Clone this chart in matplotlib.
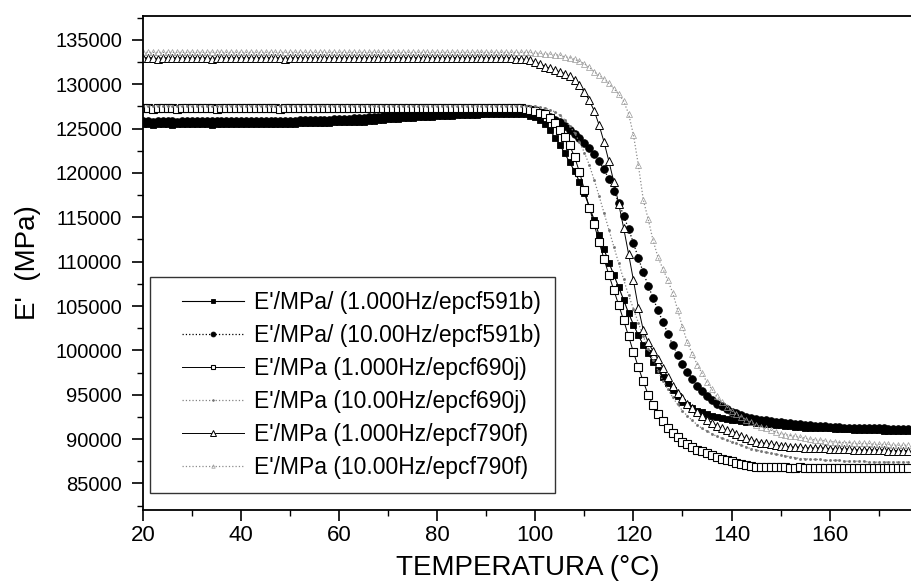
import numpy as np
import matplotlib
matplotlib.use("Agg")
import matplotlib.pyplot as plt
from matplotlib.lines import Line2D
from matplotlib.legend_handler import HandlerLine2D
from matplotlib.ticker import MultipleLocator

plt.rcParams['font.family'] = ['Liberation Sans', 'DejaVu Sans']

# Temperature (°C), one reading per degree
temperature = np.arange(20, 177)

# Storage modulus E' (MPa)
e_591b_1hz = [
    125500, 125500, 125400, 125500, 125500, 125500, 125400, 125500, 125500, 125500,
    125500, 125500, 125500, 125500, 125400, 125500, 125500, 125500, 125500, 125500,
    125500, 125500, 125500, 125500, 125500, 125500, 125500, 125500, 125500, 125500,
    125500, 125500, 125600, 125600, 125600, 125600, 125600, 125600, 125600, 125700,
    125700, 125700, 125700, 125800, 125800, 125800, 125900, 125900, 126000, 126000,
    126100, 126100, 126100, 126200, 126200, 126200, 126300, 126300, 126300, 126300,
    126400, 126400, 126400, 126400, 126500, 126500, 126500, 126500, 126500, 126600,
    126600, 126600, 126600, 126600, 126700, 126700, 126700, 126600, 126600, 126400,
    126300, 126000, 125500, 124800, 124000, 123200, 122200, 121200, 120200, 119000,
    117700, 116200, 114700, 113000, 111400, 109900, 108500, 107100, 105700, 104200,
    102900, 101700, 100600, 99700, 98700, 97800, 97000, 96300, 95500, 94800,
    94200, 93800, 93500, 93200, 93000, 92800, 92600, 92500, 92400, 92300,
    92200, 92100, 92000, 91900, 91900, 91800, 91800, 91700, 91700, 91600,
    91600, 91500, 91500, 91400, 91400, 91300, 91300, 91300, 91200, 91200,
    91200, 91100, 91100, 91100, 91100, 91000, 91000, 91000, 91000, 91000,
    91000, 90900, 90900, 90900, 90900, 90900, 90900,
]
e_591b_10hz = [
    125900, 125900, 125800, 125900, 125900, 125900, 125900, 125800, 125900, 125900,
    125900, 125900, 125900, 125900, 125900, 125900, 125900, 125900, 125900, 125900,
    125900, 125900, 125900, 125900, 125900, 125900, 125900, 125900, 125900, 125900,
    125900, 125900, 126000, 126000, 126000, 126000, 126000, 126000, 126000, 126100,
    126100, 126100, 126100, 126200, 126200, 126200, 126300, 126300, 126300, 126400,
    126400, 126400, 126500, 126500, 126500, 126500, 126600, 126600, 126600, 126600,
    126700, 126700, 126700, 126700, 126800, 126800, 126800, 126800, 126800, 126800,
    126900, 126900, 126900, 126900, 126900, 126900, 126900, 126900, 126900, 126900,
    126900, 126800, 126600, 126300, 126000, 125700, 125300, 124900, 124400, 123900,
    123400, 122800, 122100, 121300, 120400, 119300, 118000, 116600, 115200, 113700,
    112100, 110400, 108800, 107300, 105900, 104500, 103200, 101900, 100600, 99500,
    98500, 97600, 96800, 96000, 95400, 94900, 94400, 94000, 93700, 93400,
    93100, 92900, 92700, 92500, 92400, 92300, 92200, 92100, 92000, 91900,
    91900, 91800, 91800, 91700, 91700, 91600, 91600, 91500, 91500, 91500,
    91400, 91400, 91400, 91300, 91300, 91300, 91300, 91200, 91200, 91200,
    91200, 91200, 91100, 91100, 91100, 91100, 91100,
]
e_690j_1hz = [
    127300, 127300, 127200, 127300, 127300, 127300, 127300, 127200, 127300, 127300,
    127300, 127300, 127300, 127300, 127300, 127200, 127300, 127300, 127300, 127300,
    127300, 127300, 127300, 127300, 127300, 127300, 127300, 127300, 127200, 127300,
    127300, 127300, 127300, 127300, 127300, 127300, 127300, 127300, 127300, 127300,
    127300, 127300, 127300, 127300, 127300, 127300, 127300, 127300, 127300, 127300,
    127300, 127300, 127300, 127300, 127300, 127300, 127300, 127300, 127300, 127300,
    127300, 127300, 127300, 127300, 127300, 127300, 127300, 127300, 127300, 127300,
    127300, 127300, 127300, 127300, 127300, 127300, 127300, 127300, 127200, 127100,
    127000, 126800, 126600, 126200, 125600, 124900, 124100, 123100, 121800, 120100,
    118100, 116100, 114200, 112200, 110300, 108500, 106800, 105100, 103400, 101600,
    99800, 98100, 96500, 95000, 93800, 92800, 92000, 91300, 90700, 90200,
    89700, 89400, 89100, 88800, 88600, 88400, 88200, 88000, 87800, 87600,
    87500, 87300, 87200, 87100, 87000, 86900, 86900, 86800, 86800, 86800,
    86800, 86800, 86700, 86700, 86800, 86700, 86700, 86700, 86700, 86700,
    86700, 86700, 86700, 86700, 86700, 86700, 86700, 86700, 86700, 86700,
    86700, 86700, 86700, 86700, 86700, 86700, 86700,
]
e_690j_10hz = [
    127600, 127600, 127600, 127600, 127600, 127600, 127600, 127600, 127600, 127600,
    127600, 127600, 127600, 127600, 127600, 127600, 127600, 127600, 127600, 127600,
    127600, 127600, 127600, 127600, 127600, 127600, 127600, 127600, 127600, 127600,
    127600, 127600, 127600, 127600, 127600, 127600, 127600, 127600, 127600, 127600,
    127600, 127600, 127600, 127600, 127600, 127600, 127600, 127600, 127600, 127600,
    127600, 127600, 127600, 127600, 127600, 127600, 127600, 127600, 127600, 127600,
    127600, 127600, 127600, 127600, 127600, 127600, 127600, 127600, 127600, 127600,
    127600, 127600, 127600, 127600, 127600, 127600, 127600, 127600, 127600, 127600,
    127500, 127400, 127300, 127100, 126900, 126500, 126000, 125300, 124500, 123500,
    122300, 120900, 119200, 117400, 115500, 113600, 111700, 109800, 108000, 106200,
    104700, 103100, 101600, 100200, 98900, 97700, 96600, 95600, 94700, 93900,
    93200, 92600, 92100, 91600, 91200, 90900, 90600, 90300, 90100, 89900,
    89700, 89500, 89300, 89100, 88900, 88800, 88600, 88500, 88400, 88300,
    88200, 88100, 88000, 87900, 87800, 87800, 87700, 87700, 87700, 87600,
    87600, 87600, 87600, 87500, 87500, 87500, 87500, 87500, 87400, 87400,
    87400, 87400, 87400, 87400, 87400, 87400, 87400,
]
e_790f_1hz = [
    133000, 133000, 133000, 132900, 133000, 133000, 133000, 133000, 133000, 133000,
    133000, 133000, 133000, 133000, 132900, 133000, 133000, 133000, 133000, 133000,
    133000, 133000, 133000, 133000, 133000, 133000, 133000, 133000, 133000, 132900,
    133000, 133000, 133000, 133000, 133000, 133000, 133000, 133000, 133000, 133000,
    133000, 133000, 133000, 133000, 133000, 133000, 133000, 133000, 133000, 133000,
    133000, 133000, 133000, 133000, 133000, 133000, 133000, 133000, 133000, 133000,
    133000, 133000, 133000, 133000, 133000, 133000, 133000, 133000, 133000, 133000,
    133000, 133000, 133000, 133000, 133000, 133000, 132900, 132900, 132800, 132700,
    132500, 132300, 132000, 131800, 131600, 131400, 131200, 130900, 130500, 129900,
    129100, 128200, 127000, 125400, 123500, 121300, 119000, 116500, 113800, 110900,
    107900, 104800, 102300, 100900, 99900, 99000, 98000, 97000, 96000, 95200,
    94600, 94000, 93500, 93000, 92600, 92200, 91800, 91500, 91200, 91000,
    90800, 90600, 90300, 90100, 89900, 89700, 89600, 89500, 89400, 89300,
    89200, 89200, 89100, 89100, 89100, 89000, 89000, 89000, 89000, 89000,
    88900, 88900, 88900, 88900, 88900, 88800, 88800, 88800, 88800, 88800,
    88800, 88800, 88700, 88700, 88700, 88700, 88700,
]
e_790f_10hz = [
    133600, 133600, 133600, 133600, 133600, 133600, 133600, 133600, 133600, 133600,
    133600, 133600, 133600, 133600, 133600, 133600, 133600, 133600, 133600, 133600,
    133600, 133600, 133600, 133600, 133600, 133600, 133600, 133600, 133600, 133600,
    133600, 133600, 133600, 133600, 133600, 133600, 133600, 133600, 133600, 133600,
    133600, 133600, 133600, 133600, 133600, 133600, 133600, 133600, 133600, 133600,
    133600, 133600, 133600, 133600, 133600, 133600, 133600, 133600, 133600, 133600,
    133600, 133600, 133600, 133600, 133600, 133600, 133600, 133600, 133600, 133600,
    133600, 133600, 133600, 133600, 133600, 133600, 133600, 133600, 133600, 133600,
    133500, 133500, 133400, 133400, 133300, 133300, 133100, 133000, 132800, 132600,
    132300, 131900, 131400, 131000, 130600, 130100, 129500, 128900, 128100, 126700,
    124300, 120900, 117000, 114800, 112400, 110500, 109200, 107900, 106500, 104600,
    102600, 100900, 99600, 98400, 97400, 96400, 95600, 94800, 94200, 93600,
    93200, 92800, 92500, 92200, 91900, 91600, 91400, 91200, 91000, 90800,
    90600, 90500, 90400, 90300, 90200, 90100, 90000, 89900, 89900, 89800,
    89700, 89700, 89600, 89600, 89600, 89500, 89500, 89500, 89500, 89400,
    89400, 89400, 89400, 89300, 89300, 89300, 89300,
]

labels = [
    "E'/MPa/ (1.000Hz/epcf591b)",
    "E'/MPa/ (10.00Hz/epcf591b)",
    "E'/MPa (1.000Hz/epcf690j)",
    "E'/MPa (10.00Hz/epcf690j)",
    "E'/MPa (1.000Hz/epcf790f)",
    "E'/MPa (10.00Hz/epcf790f)",
]
series = [e_591b_1hz, e_591b_10hz, e_690j_1hz, e_690j_10hz, e_790f_1hz, e_790f_10hz]

styles = [
    dict(color='black', ls='-', lw=0.8, marker='s', ms=5, mfc='black', mec='black', mew=0.6),
    dict(color='black', ls=':', lw=0.9, marker='o', ms=5.5, mfc='black', mec='black', mew=0.6),
    dict(color='black', ls='-', lw=0.7, marker='s', ms=5.5, mfc='white', mec='black', mew=0.8),
    dict(color='0.5', ls=':', lw=0.9, marker='.', ms=3, mfc='0.45', mec='0.45', mew=0.5),
    dict(color='black', ls='-', lw=0.7, marker='^', ms=6, mfc='white', mec='black', mew=0.7),
    dict(color='0.55', ls=':', lw=0.9, marker='^', ms=4, mfc='none', mec='0.6', mew=0.5),
]


class IndentedLineHandler(HandlerLine2D):
    """Legend line sample that leaves a blank gap before the line starts."""

    def __init__(self, gap, **kw):
        super().__init__(**kw)
        self.gap = gap

    def create_artists(self, legend, orig_handle, xdescent, ydescent,
                       width, height, fontsize, trans):
        return super().create_artists(legend, orig_handle, xdescent - self.gap,
                                      ydescent, width - self.gap, height,
                                      fontsize, trans)


fig = plt.figure(figsize=(9.12, 5.85), dpi=100)
ax = fig.add_axes([143 / 912, 75 / 585, 770 / 912, 494 / 585])

for vals, st in zip(series, styles):
    ax.plot(temperature, vals, **st)

ax.set_xlim(20, 177)
ax.set_ylim(82000, 137700)
ax.xaxis.set_major_locator(MultipleLocator(20))
ax.xaxis.set_minor_locator(MultipleLocator(10))
ax.yaxis.set_minor_locator(MultipleLocator(2500))
ax.set_yticks(np.arange(85000, 135001, 5000))

ax.spines['right'].set_visible(False)
for s in ('left', 'bottom', 'top'):
    ax.spines[s].set_linewidth(1.3)

ax.tick_params(which='major', direction='out', length=8, width=1.2, top=False, right=False)
ax.tick_params(which='minor', direction='out', length=4, width=1.0, top=False, right=False)
ax.tick_params(axis='y', which='major', labelsize=14.5, pad=7)
ax.tick_params(axis='x', which='major', labelsize=16, pad=3)

ax.set_xlabel('TEMPERATURA (°C)', fontsize=20, labelpad=6)
ax.set_ylabel("E'  (MPa)", fontsize=20, labelpad=10)

handles = []
for st in styles:
    hs = dict(st)
    hs['ms'] = max(2.5, st['ms'] - 2)
    handles.append(Line2D([], [], **hs))

leg_fs = 16.5
gap_px = 18
gap_pts = gap_px * 72 / fig.dpi
leg = ax.legend(handles, labels, loc='upper left', bbox_to_anchor=(0.009, 0.4717),
                fontsize=leg_fs, frameon=True, fancybox=False, edgecolor='black',
                handlelength=3.5, handletextpad=0.45, labelspacing=0.44,
                borderpad=0.6, borderaxespad=0, numpoints=1,
                handler_map={Line2D: IndentedLineHandler(gap_pts)})
leg.get_frame().set_linewidth(1.0)

fig.savefig('out.png', dpi=100)
